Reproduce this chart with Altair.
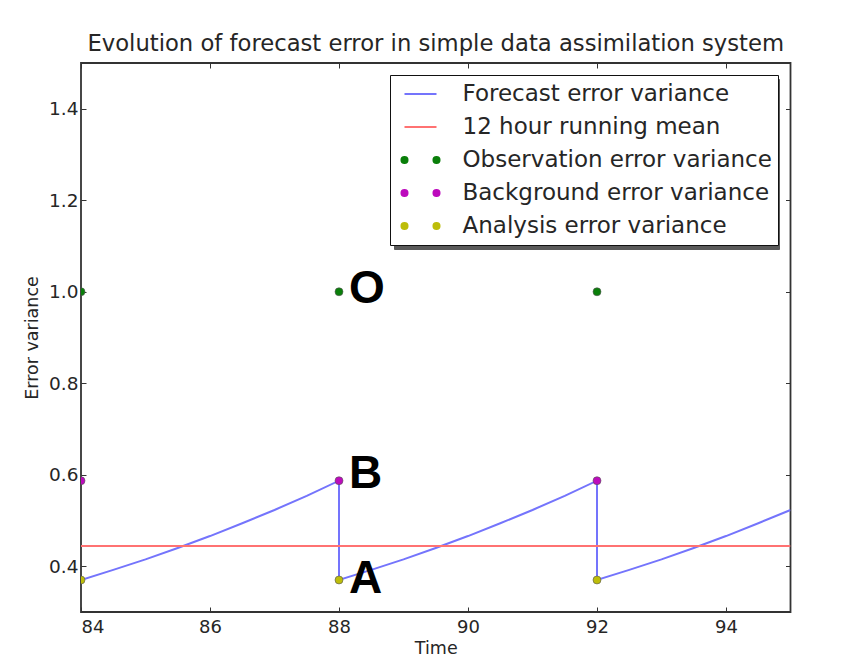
import altair as alt
import pandas as pd

# Forecast error variance: grows between analyses, drops at each analysis time
fc_time = [84, 84.5, 85, 85.5, 86, 86.5, 87, 87.5, 88,
           88, 88.5, 89, 89.5, 90, 90.5, 91, 91.5, 92,
           92, 92.5, 93, 93.5, 94, 94.5, 95]
fc_var = [0.370, 0.392, 0.415, 0.440, 0.466, 0.494, 0.523, 0.554, 0.587,
          0.370, 0.392, 0.415, 0.440, 0.466, 0.494, 0.523, 0.554, 0.587,
          0.370, 0.392, 0.415, 0.440, 0.466, 0.494, 0.523]

# 12 hour running mean of the forecast error variance
mean_time = [84, 95]
mean_var = [0.444, 0.444]

# Variances at the assimilation times
assim_time = [84, 88, 92]
obs_var = [1.0, 1.0, 1.0]
bg_var = [0.587, 0.587, 0.587]
an_var = [0.370, 0.370, 0.370]

series_names = [
    "Forecast error variance",
    "12 hour running mean",
    "Observation error variance",
    "Background error variance",
    "Analysis error variance",
]
series_colors = ["#7474fc", "#ff7272", "#0a7f0a", "#bd0bbd", "#bdbd0a"]

# Letters marking observation, background and analysis at t = 88
annot_labels = ["O", "B", "A"]
annot_time = [88, 88, 88]
annot_var = [1.005, 0.602, 0.372]

FONT = "DejaVu Sans"
INK = "#262626"
FRAME = "#333333"
TICK = 5

# two small dots side by side, the legend symbol of the point series
DOTS = ("M -1.19 0 A 0.19 0.19 0 1 0 -0.81 0 A 0.19 0.19 0 1 0 -1.19 0 Z "
        "M 0.81 0 A 0.19 0.19 0 1 0 1.19 0 A 0.19 0.19 0 1 0 0.81 0 Z")
series_shapes = ["stroke", "stroke", DOTS, DOTS, DOTS]

fc_df = pd.DataFrame({"time": fc_time, "variance": fc_var,
                      "idx": list(range(len(fc_time)))})
mean_df = pd.DataFrame({"time": mean_time, "variance": mean_var})
obs_df = pd.DataFrame({"time": assim_time, "variance": obs_var})
bg_df = pd.DataFrame({"time": assim_time, "variance": bg_var})
an_df = pd.DataFrame({"time": assim_time, "variance": an_var})
ann_df = pd.DataFrame({"time": annot_time, "variance": annot_var, "label": annot_labels})
key_df = pd.DataFrame({"series": series_names})

x_scale = alt.Scale(domain=[84, 95], nice=False, zero=False)
y_scale = alt.Scale(domain=[0.3, 1.5], nice=False, zero=False)
x_ticks = [84, 86, 88, 90, 92, 94]
y_ticks = [0.4, 0.6, 0.8, 1.0, 1.2, 1.4]

# axes are pulled inside the frame by their tick length so ticks point inward
tick_common = dict(domain=False, grid=False, tickColor=FRAME, tickWidth=1,
                   tickSize=TICK, offset=-TICK)

x_bottom = alt.Axis(title="Time", values=x_ticks, format="d",
                    labelFont=FONT, labelFontSize=18, labelColor=INK,
                    labelPadding=6, titleFont=FONT, titleFontSize=17.5,
                    titleFontWeight="normal", titleColor=INK, titlePadding=3,
                    **tick_common)
x_top = alt.Axis(title=None, orient="top", values=x_ticks, labels=False,
                 **tick_common)
y_left = alt.Axis(title="Error variance", values=y_ticks, format=".1f",
                  labelFont=FONT, labelFontSize=18.5, labelColor=INK,
                  labelPadding=3, titleFont=FONT, titleFontSize=17.5,
                  titleFontWeight="normal", titleColor=INK, titlePadding=7,
                  **tick_common)
y_right = alt.Axis(title=None, orient="right", values=y_ticks, labels=False,
                   **tick_common)


def xy(x_axis=None, y_axis=None):
    return dict(
        x=alt.X("time:Q", scale=x_scale, axis=x_axis),
        y=alt.Y("variance:Q", scale=y_scale, axis=y_axis),
    )


fc_line = alt.Chart(fc_df).mark_line(
    strokeWidth=2, clip=True, color=series_colors[0]
).encode(order="idx:Q", **xy(x_bottom, y_left))

mean_line = alt.Chart(mean_df).mark_line(
    strokeWidth=2, clip=True, color=series_colors[1]
).encode(**xy(x_top, y_right))


def dots(df, colour):
    return alt.Chart(df).mark_circle(
        size=64, opacity=1, color=colour, stroke="#555", strokeWidth=0.6, clip=True
    ).encode(**xy())


obs_pts = dots(obs_df, series_colors[2])
bg_pts = dots(bg_df, series_colors[3])
an_pts = dots(an_df, series_colors[4])

letters = alt.Chart(ann_df).mark_text(
    font="Liberation Sans", fontWeight="bold", fontSize=46,
    align="left", baseline="middle", dx=10, color="black"
).encode(text="label:N", **xy())

# legend box settings shared by the key and its drop shadow
box = dict(
    title=None, orient="none",
    symbolSize=1024, symbolStrokeWidth=2,
    labelFont=FONT, labelFontSize=23, labelLimit=500,
    padding=6, rowPadding=7, clipHeight=26, symbolOffset=7.5, cornerRadius=0,
)
legend = alt.Legend(legendX=309, legendY=12, labelColor=INK, symbolOpacity=1,
                    labelOffset=25, strokeColor="#111", fillColor="white",
                    zindex=2, **box)
# the shadow box has blank labels; its label offset gives it the key's width
shadow = alt.Legend(legendX=313, legendY=16, labelExpr="''", labelOffset=331,
                    symbolOpacity=0, strokeColor="#5a5a5a", fillColor="#5a5a5a",
                    zindex=1, **box)

# legend key: carries the series scales, draws no marks of its own
key = alt.Chart(key_df).transform_filter("false").mark_point(
    filled=True, opacity=1, strokeWidth=2
).encode(
    fill=alt.Fill("series:N", scale=alt.Scale(domain=series_names, range=series_colors),
                  legend=legend),
    stroke=alt.Stroke("series:N", scale=alt.Scale(domain=series_names, range=series_colors),
                      legend=legend),
    shape=alt.Shape("series:N", scale=alt.Scale(domain=series_names, range=series_shapes),
                    legend=legend),
    strokeDash=alt.StrokeDash("series:N", scale=alt.Scale(domain=series_names[::-1]),
                              legend=shadow),
)

chart = alt.layer(
    fc_line, mean_line, obs_pts, bg_pts, an_pts, letters, key
).resolve_axis(
    x="independent", y="independent"
).properties(
    width=709.5, height=549,
    title=alt.TitleParams(
        "Evolution of forecast error in simple data assimilation system",
        font=FONT, fontSize=22.7, fontWeight="normal", color=INK,
        anchor="middle", offset=7,
    ),
    autosize=alt.AutoSizeParams(type="none"),
    padding={"left": 81, "top": 63, "right": 53.5, "bottom": 45},
).configure_view(
    stroke=FRAME, strokeWidth=1.8
)

chart.save("out.html", embed_options={"renderer": "svg", "actions": False})
